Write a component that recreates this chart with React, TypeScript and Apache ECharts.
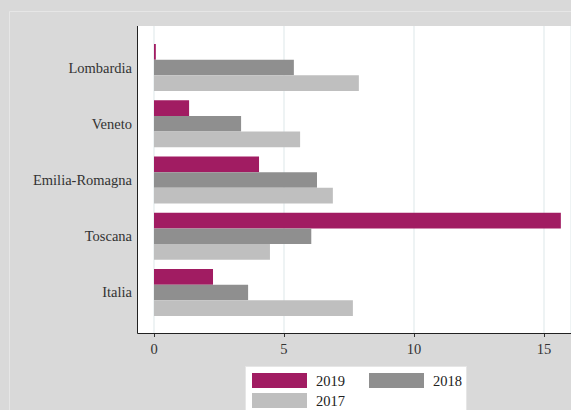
import React, { useEffect, useRef } from 'react';
import * as echarts from 'echarts';

const categories = ['Lombardia', 'Veneto', 'Emilia-Romagna', 'Toscana', 'Italia'];
const years = ['2019', '2018', '2017'];
const v2019 = [0.07, 1.35, 4.04, 15.65, 2.27];
const v2018 = [5.38, 3.35, 6.27, 6.05, 3.62];
const v2017 = [7.88, 5.62, 6.88, 4.46, 7.65];
const colors = ['#a11c62', '#8f8f8f', '#bfbfbf'];
const xMax = 16.04;

export default function App() {
  const ref = useRef<HTMLDivElement>(null);
  useEffect(() => {
    const chart = echarts.init(ref.current!, null, { renderer: 'svg' });
    const font = '"Liberation Serif", "Times New Roman", serif';
    const fs = 14.5;
    const legendCommon = {
      left: 252,
      itemWidth: 55,
      itemHeight: 15,
      itemGap: 24,
      icon: 'rect',
      padding: 0,
      textStyle: { fontSize: fs, color: '#222', fontFamily: font, padding: [0, 0, 0, 4] },
    };
    chart.setOption({
      animation: false,
      backgroundColor: '#d9d9d9',
      textStyle: { fontFamily: font },
      grid: [
        { left: 154, top: 26, width: 417, height: 307 },
        { left: 154, top: 39.4, width: 417, height: 281.2 },
      ],
      xAxis: [
        {
          gridIndex: 0,
          type: 'value',
          min: 0,
          max: xMax,
          interval: 5,
          axisLine: { show: false },
          axisTick: { show: true, length: 4, lineStyle: { color: '#333' } },
          axisLabel: { margin: 8, fontSize: fs, color: '#333', fontFamily: font, showMaxLabel: false },
          splitLine: { show: true, lineStyle: { color: '#e9eff1', width: 1.5 } },
        },
        { gridIndex: 1, type: 'value', min: 0, max: xMax, show: false },
      ],
      yAxis: [
        { gridIndex: 0, type: 'value', show: false },
        {
          gridIndex: 1,
          type: 'category',
          data: categories,
          inverse: true,
          axisLine: { show: false },
          axisTick: { show: false },
          axisLabel: { margin: 22, fontSize: fs, color: '#333', fontFamily: font },
        },
      ],
      legend: [
        { ...legendCommon, top: 373, data: ['2019', '2018'] },
        { ...legendCommon, top: 393, data: ['2017'] },
      ],
      series: [v2019, v2018, v2017].map((d, i) => ({
        type: 'bar',
        name: years[i],
        xAxisIndex: 1,
        yAxisIndex: 1,
        data: d,
        itemStyle: { color: colors[i] },
        barGap: '0%',
        barCategoryGap: '16.3%',
      })),
      graphic: [
        { type: 'rect', z: -20, shape: { x: 9.5, y: 11.5, width: 700, height: 600 }, style: { fill: 'none', stroke: '#e6e6e6', lineWidth: 1 } },
        { type: 'rect', z: -10, shape: { x: 138, y: 26, width: 433, height: 307 }, style: { fill: '#ffffff' } },
        { type: 'line', z: 10, shape: { x1: 137.5, y1: 26, x2: 137.5, y2: 333.5 }, style: { stroke: '#222', lineWidth: 1 } },
        { type: 'line', z: 10, shape: { x1: 137.5, y1: 333.5, x2: 571, y2: 333.5 }, style: { stroke: '#222', lineWidth: 1 } },
        { type: 'rect', z: 3, shape: { x: 245.5, y: 366.5, width: 221, height: 60 }, style: { fill: '#ffffff', stroke: '#e6e6e6', lineWidth: 1 } },
      ],
    });
    return () => chart.dispose();
  }, []);
  return <div ref={ref} style={{ position: 'absolute', left: 0, top: 0, width: 571, height: 410 }} />;
}
